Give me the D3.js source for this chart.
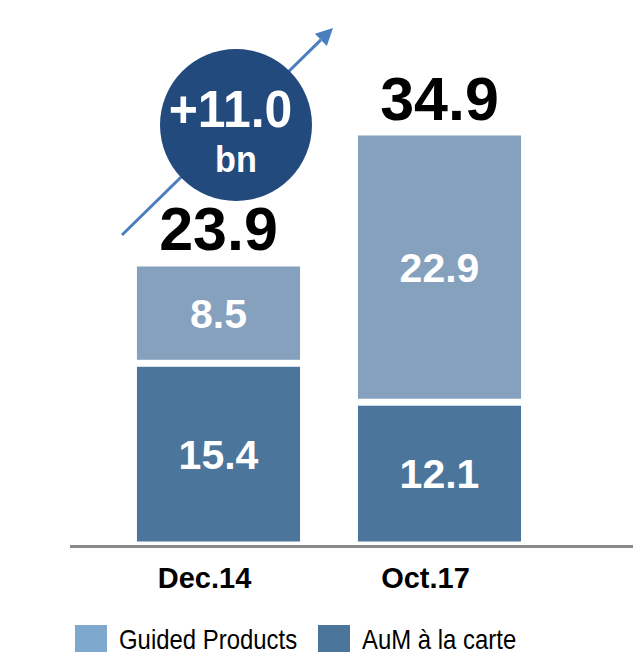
<!DOCTYPE html>
<html>
<head>
<meta charset="utf-8">
<script src="https://cdn.jsdelivr.net/npm/d3@7"></script>
<style>
  html, body { margin: 0; padding: 0; background: #fff; }
  svg { display: block; font-family: "Liberation Sans", Arial, Helvetica, sans-serif; }
</style>
</head>
<body>
<svg id="chart" width="633" height="653"></svg>
<script>
// AuM split by period (EUR bn)
const categories = ["Dec.14", "Oct.17"];
const aumCarte = [15.4, 12.1];
const guidedProducts = [8.5, 22.9];
const totals = [23.9, 34.9];
const growthLabel = "+11.0";
const growthUnit = "bn";
const seriesNames = ["Guided Products", "AuM à la carte"];

const W = 633, H = 653;
const baseY = 545;
const svg = d3.select("#chart");

const colors = {
  guided: "#85A1BE",
  carte: "#4C759B",
  guidedKey: "#7FA8CF",
  bubble: "#234A7C",
  arrow: "#4A7EBF"
};

const x = d3.scaleBand()
  .domain(categories)
  .range([108, 550])
  .paddingInner(0.262)
  .paddingOuter(0.131);

const y = d3.scaleLinear()
  .domain([0, 40])
  .range([baseY, 73]);

// stacked layout: à la carte at the bottom, guided on top
const rows = categories.map((c, i) => ({ cat: c, carte: aumCarte[i], guided: guidedProducts[i], total: totals[i] }));
const stack = d3.stack().keys(["carte", "guided"])(rows);

const inset = 3.5;
const g = svg.append("g");

stack.forEach(layer => {
  g.selectAll(null)
    .data(layer)
    .enter()
    .append("rect")
    .attr("x", d => x(d.data.cat))
    .attr("width", x.bandwidth())
    .attr("y", d => y(d[1]) + inset)
    .attr("height", d => y(d[0]) - y(d[1]) - 2 * inset)
    .attr("fill", layer.key === "carte" ? colors.carte : colors.guided);

  g.selectAll(null)
    .data(layer)
    .enter()
    .append("text")
    .attr("x", d => x(d.data.cat) + x.bandwidth() / 2)
    .attr("y", d => (y(d[0]) + y(d[1])) / 2 + 14.5)
    .attr("text-anchor", "middle")
    .attr("fill", "#fff")
    .attr("font-weight", "bold")
    .attr("font-size", 41)
    .text(d => d.data[layer.key].toFixed(1));
});

// totals above bars
g.selectAll(null)
  .data(rows)
  .enter()
  .append("text")
  .attr("x", d => x(d.cat) + x.bandwidth() / 2)
  .attr("y", d => y(d.total) - 13)
  .attr("text-anchor", "middle")
  .attr("fill", "#000")
  .attr("font-weight", "bold")
  .attr("font-size", 61)
  .text(d => d.total.toFixed(1));

// baseline
svg.append("line")
  .attr("x1", 70).attr("x2", W)
  .attr("y1", baseY + 1.5).attr("y2", baseY + 1.5)
  .attr("stroke", "#8a8a8a")
  .attr("stroke-width", 3);

// category labels
const xAxis = d3.axisBottom(x).tickSize(0).tickPadding(0);
const axisG = svg.append("g")
  .attr("transform", `translate(-14,${baseY})`)
  .call(xAxis);
axisG.select(".domain").remove();
axisG.selectAll("text")
  .attr("y", 43)
  .attr("dy", 0)
  .attr("fill", "#000")
  .attr("font-weight", "bold")
  .attr("font-size", 29)
  .attr("font-family", "\"Liberation Sans\", Arial, sans-serif");

// growth arrow
const a0 = [122, 235], a1 = [333, 28];
const ang = Math.atan2(a1[1] - a0[1], a1[0] - a0[0]);
const headLen = 17, headHalf = 8.5;
const hb = [a1[0] - headLen * Math.cos(ang), a1[1] - headLen * Math.sin(ang)];
svg.append("line")
  .attr("x1", a0[0]).attr("y1", a0[1])
  .attr("x2", hb[0]).attr("y2", hb[1])
  .attr("stroke", colors.arrow)
  .attr("stroke-width", 3);
svg.append("path")
  .attr("d", d3.line()([
    a1,
    [hb[0] + headHalf * Math.sin(ang), hb[1] - headHalf * Math.cos(ang)],
    [hb[0] - headHalf * Math.sin(ang), hb[1] + headHalf * Math.cos(ang)]
  ]) + "Z")
  .attr("fill", colors.arrow);

// growth bubble
const bub = svg.append("g").attr("transform", "translate(236,125)");
bub.append("circle").attr("r", 76).attr("fill", colors.bubble);
bub.append("text")
  .attr("transform", "translate(-5.5,2) scale(0.96,1)")
  .attr("text-anchor", "middle")
  .attr("fill", "#fff")
  .attr("font-weight", "bold")
  .attr("font-size", 52)
  .text(growthLabel);
bub.append("text")
  .attr("transform", "translate(0,47) scale(0.95,1)")
  .attr("text-anchor", "middle")
  .attr("fill", "#fff")
  .attr("font-weight", "bold")
  .attr("font-size", 36)
  .text(growthUnit);

// legend
const legendItems = [
  { name: seriesNames[0], color: colors.guidedKey, x: 75 },
  { name: seriesNames[1], color: colors.carte, x: 318 }
];
const lg = svg.append("g");
legendItems.forEach(it => {
  lg.append("rect")
    .attr("x", it.x).attr("y", 625)
    .attr("width", 32).attr("height", 27)
    .attr("fill", it.color);
  lg.append("text")
    .attr("transform", `translate(${it.x + 44},649) scale(0.886,1)`)
    .attr("fill", "#000")
    .attr("font-size", 27)
    .text(it.name);
});
</script>
</body>
</html>
